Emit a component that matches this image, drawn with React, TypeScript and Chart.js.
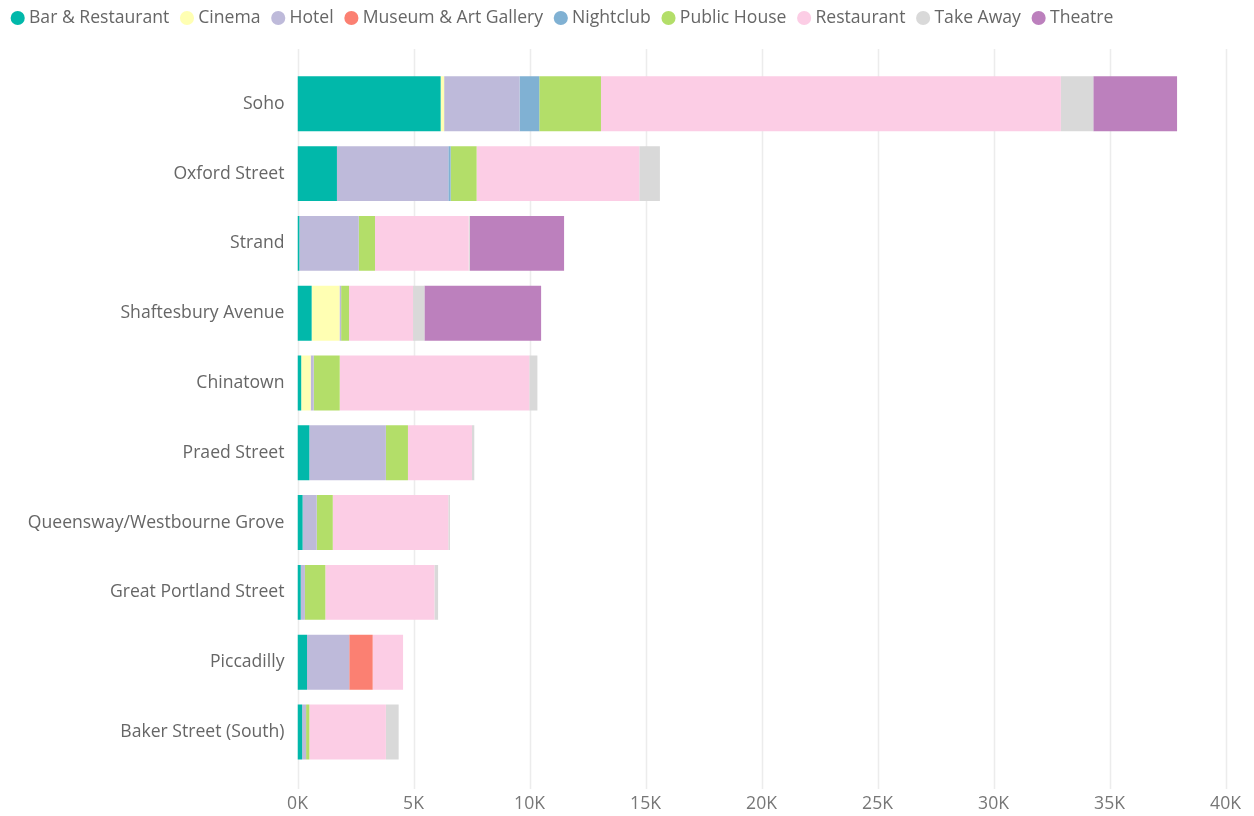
import React, { useEffect, useRef } from 'react';
import { Chart, registerables } from 'chart.js';

Chart.register(...registerables);

const categories = [
  'Soho',
  'Oxford Street',
  'Strand',
  'Shaftesbury Avenue',
  'Chinatown',
  'Praed Street',
  'Queensway/Westbourne Grove',
  'Great Portland Street',
  'Piccadilly',
  'Baker Street (South)',
];

const seriesNames = [
  'Bar & Restaurant',
  'Cinema',
  'Hotel',
  'Museum & Art Gallery',
  'Nightclub',
  'Public House',
  'Restaurant',
  'Take Away',
  'Theatre',
];

const seriesColors = [
  '#01B8AA',
  '#FFFFB3',
  '#BEBADA',
  '#FB8072',
  '#80B1D3',
  '#B3DE69',
  '#FCCDE5',
  '#D9D9D9',
  '#BC80BD',
];

const barRestaurant = [6170, 1700, 80, 610, 160, 510, 220, 140, 410, 200];
const cinema = [150, 0, 0, 1200, 410, 0, 0, 0, 0, 0];
const hotel = [3250, 4800, 2560, 70, 130, 3300, 610, 180, 1820, 170];
const museum = [0, 0, 0, 0, 0, 0, 0, 0, 1010, 0];
const nightclub = [850, 100, 0, 0, 0, 0, 0, 0, 0, 0];
const publicHouse = [2660, 1120, 700, 340, 1120, 950, 690, 880, 0, 140];
const restaurant = [19820, 7010, 4040, 2760, 8170, 2760, 4980, 4700, 1310, 3300];
const takeAway = [1400, 890, 50, 490, 350, 100, 70, 160, 0, 550];
const theatre = [3610, 0, 4060, 5030, 0, 0, 0, 0, 0, 0];

const xMin = 0;
const xMax = 40000;
const xStep = 5000;

const seriesValues = [
  barRestaurant,
  cinema,
  hotel,
  museum,
  nightclub,
  publicHouse,
  restaurant,
  takeAway,
  theatre,
];

const FONT = "'Open Sans', 'Noto Sans', sans-serif";
const FONT_SIZE = 17.6;

const fullGridPlugin = {
  id: 'fullGrid',
  beforeDatasetsDraw(chart: any) {
    const { ctx, chartArea, scales } = chart;
    const xs = scales.x;
    ctx.save();
    ctx.strokeStyle = '#ECECEC';
    ctx.lineWidth = 1.5;
    xs.ticks.forEach((t: any) => {
      const px = Math.round(xs.getPixelForValue(t.value)) + 0.5;
      ctx.beginPath();
      ctx.moveTo(px, chartArea.top - 20);
      ctx.lineTo(px, chartArea.bottom + 22);
      ctx.stroke();
    });
    ctx.restore();
  },
};

const legendGapPlugin = {
  id: 'legendGap',
  beforeInit(chart: any) {
    const legend = chart.legend;
    if (!legend) return;
    const origFit = legend.fit;
    legend.fit = function () {
      origFit.call(legend);
      legend.height += 32.1;
    };
  },
};

export default function App() {
  const canvasRef = useRef<HTMLCanvasElement | null>(null);

  useEffect(() => {
    document.body.style.margin = '0';
    const canvas = canvasRef.current;
    if (!canvas) return;
    const chart = new Chart(canvas, {
      type: 'bar',
      data: {
        labels: categories,
        datasets: seriesNames.map((name, i) => ({
          label: name,
          data: seriesValues[i],
          backgroundColor: seriesColors[i],
          borderWidth: 0,
          categoryPercentage: 1,
          barPercentage: 0.787,
        })),
      },
      options: {
        indexAxis: 'y',
        animation: false,
        responsive: false,
        maintainAspectRatio: false,
        layout: { padding: { left: 0, right: 0, top: 0, bottom: 1 } },
        scales: {
          x: {
            stacked: true,
            min: xMin,
            max: xMax,
            grid: { display: false, drawTicks: false },
            border: { display: false },
            ticks: {
              stepSize: xStep,
              padding: 27,
              maxRotation: 0,
              color: '#777777',
              font: { family: FONT, size: FONT_SIZE },
              callback: (v: any) => `${Number(v) / 1000}K`,
            },
          },
          y: {
            stacked: true,
            grid: { display: false, drawTicks: false },
            border: { display: false },
            ticks: {
              padding: 13,
              color: '#666666',
              font: { family: FONT, size: FONT_SIZE },
            },
            afterFit: (scale: any) => {
              scale.width = 297.5;
            },
          },
        },
        plugins: {
          legend: {
            position: 'top',
            align: 'start',
            labels: {
              usePointStyle: true,
              pointStyle: 'circle',
              boxWidth: 5,
              boxHeight: 10,
              padding: 15.2,
              color: '#666666',
              font: { family: FONT, size: FONT_SIZE },
            },
          },
          tooltip: { enabled: false },
        },
      },
      plugins: [fullGridPlugin, legendGapPlugin],
    });
    return () => chart.destroy();
  }, []);

  return (
    <div style={{ position: 'fixed', left: 0, top: 0, width: 1254, height: 816, overflow: 'hidden' }}>
      <div style={{ position: 'absolute', left: 0, top: -6, width: 1268, height: 849 }}>
        <canvas ref={canvasRef} width={1268} height={849} style={{ display: 'block' }} />
      </div>
    </div>
  );
}
